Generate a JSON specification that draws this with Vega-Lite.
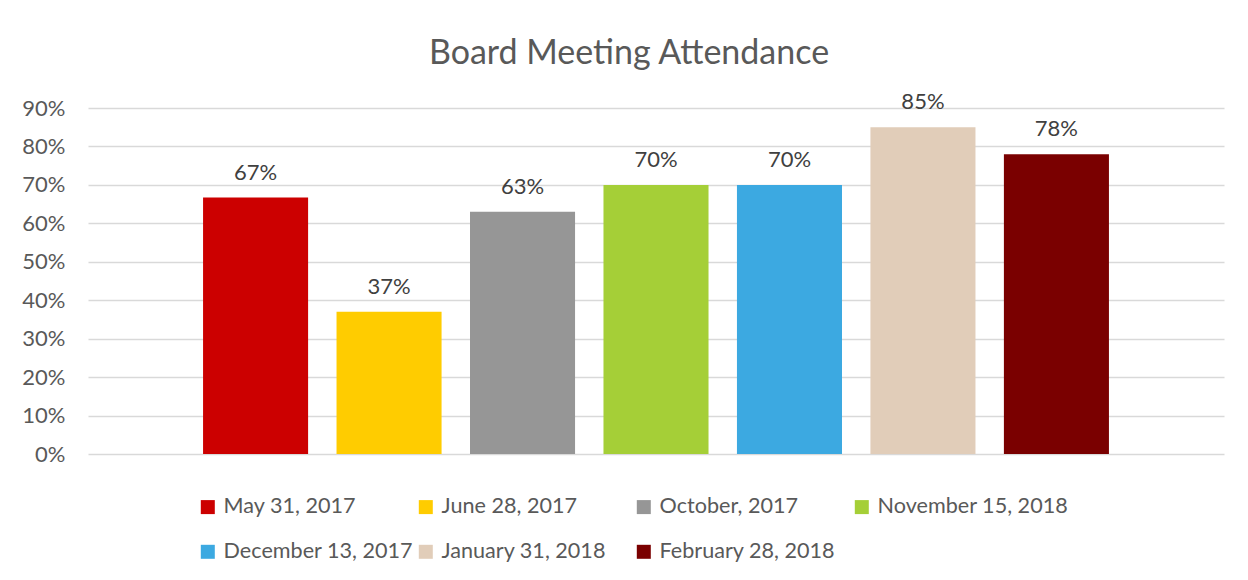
{
  "$schema": "https://vega.github.io/schema/vega-lite/v6.json",
  "width": 1136,
  "height": 346,
  "autosize": {"type": "none"},
  "padding": {"left": 88, "top": 108, "right": 24, "bottom": 126},
  "background": "white",
  "title": {
    "text": "Board Meeting Attendance",
    "font": "Lato",
    "fontSize": 34,
    "fontWeight": "normal",
    "color": "#595959",
    "anchor": "middle",
    "dx": -27,
    "offset": 20
  },
  "data": {
    "values": [
      {"date": "May 31, 2017", "value": 0.667},
      {"date": "June 28, 2017", "value": 0.37},
      {"date": "October, 2017", "value": 0.63},
      {"date": "November 15, 2018", "value": 0.70},
      {"date": "December 13, 2017", "value": 0.70},
      {"date": "January 31, 2018", "value": 0.85},
      {"date": "February 28, 2018", "value": 0.78}
    ]
  },
  "encoding": {
    "x": {
      "field": "date",
      "type": "nominal",
      "sort": null,
      "scale": {"paddingInner": 0.213, "paddingOuter": 0.862},
      "axis": null
    },
    "y": {
      "field": "value",
      "type": "quantitative",
      "scale": {"domain": [0, 0.9], "nice": false, "zero": true},
      "axis": {
        "values": [0, 0.1, 0.2, 0.3, 0.4, 0.5, 0.6, 0.7, 0.8, 0.9],
        "format": ".0%",
        "title": null,
        "domain": false,
        "ticks": false,
        "labelFont": "Lato",
        "labelFontSize": 22,
        "labelColor": "#595959",
        "labelPadding": 23,
        "gridColor": "#d9d9d9",
        "gridWidth": 1.5
      }
    }
  },
  "layer": [
    {
      "mark": {"type": "bar"},
      "encoding": {
        "color": {
          "field": "date",
          "type": "nominal",
          "sort": null,
          "scale": {
            "domain": ["May 31, 2017", "June 28, 2017", "October, 2017", "November 15, 2018", "December 13, 2017", "January 31, 2018", "February 28, 2018"],
            "range": ["#cc0000", "#ffcc00", "#969696", "#a5cf37", "#3ca9e1", "#e1cdb9", "#7a0000"]
          },
          "legend": {
            "title": null,
            "orient": "none",
            "direction": "horizontal",
            "legendX": 109,
            "legendY": 388,
            "columns": 4,
            "gridAlign": "all",
            "columnPadding": 0,
            "rowPadding": 22,
            "padding": 0,
            "symbolType": "square",
            "symbolSize": 196,
            "symbolStrokeWidth": 0,
            "labelOffset": 5,
            "labelFont": "Lato",
            "labelFontSize": 21.6,
            "labelColor": "#595959",
            "labelLimit": 400
          }
        }
      }
    },
    {
      "mark": {"type": "text", "dy": -18, "baseline": "alphabetic", "font": "Lato", "fontSize": 22, "color": "#404040"},
      "encoding": {
        "text": {"field": "value", "type": "quantitative", "format": ".0%"}
      }
    }
  ],
  "config": {
    "view": {"stroke": null}
  }
}
